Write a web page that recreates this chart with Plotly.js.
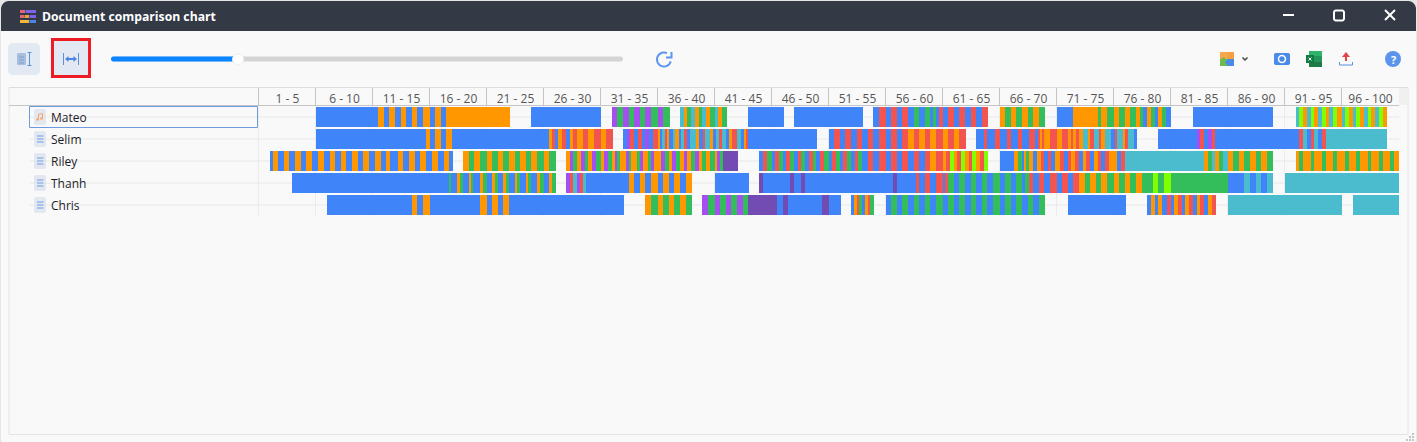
<!DOCTYPE html>
<html>
<head>
<meta charset="utf-8">
<script src="https://cdn.plot.ly/plotly-3.0.0.min.js"></script>
<style>html,body{margin:0;padding:0;background:#f9f9f9;overflow:hidden}#chart{width:1417px;height:442px}</style>
</head>
<body>
<div id="chart"></div>
<script>
const chartTitle = "Document comparison chart";
const documents = ["Mateo", "Selim", "Riley", "Thanh", "Chris"];
const binLabels = ["1 - 5","6 - 10","11 - 15","16 - 20","21 - 25","26 - 30","31 - 35","36 - 40","41 - 45","46 - 50","51 - 55","56 - 60","61 - 65","66 - 70","71 - 75","76 - 80","81 - 85","86 - 90","91 - 95","96 - 100"];
const binWidth = 57;

// start, then kind + end pairs along the document axis ("_" = no match)
const mateoRuns = [57,"b",119,"o",125,"b",130,"o",136,"b",142,"o",147,"b",153,"o",158,"b",164,"o",171,"b",176,"o",182,"b",187,"o",251,"_",272,"b",342,"_",353,
 "p",358,"g",364,"p",370,"g",375,"p",381,"g",386,"p",392,"g",399,"p",404,"g",411,"_",421,"t",425,"o",428,"g",432,"t",436,"o",440,"g",443,"t",447,"o",451,"g",456,"t",459,"o",463,"g",468,"_",489,
 "b",525,"_",535,"b",604,"_",614,"b",620,"r",627,"b",632,"r",638,"b",643,"r",649,"b",655,"g",660,"b",666,"g",671,"b",674,"g",677,"b",680,"r",684,"b",689,"r",695,"b",700,"r",706,"b",712,"r",717,"b",723,"r",729,"_",741,
 "o",746,"g",752,"o",757,"g",763,"o",769,"g",774,"o",780,"g",786,"_",798,"b",814,"o",839,"g",842,"o",848,"g",855,"o",860,"g",866,"o",871,"g",877,"o",881,"g",884,"b",888,"o",892,"g",896,"b",899,"o",903,"g",907,"b",912,"_",934,"b",1014,"_",1037,
 "t",1040,"l",1044,"o",1048,"t",1052,"l",1055,"o",1059,"t",1063,"l",1067,"o",1070,"t",1074,"l",1078,"o",1083,"t",1086,"l",1090,"o",1094,"t",1097,"l",1101,"o",1105,"t",1109,"l",1112,"o",1116,"t",1120,"l",1124,"o",1128];
const selimRuns = [57,"b",167,"o",171,"b",176,"o",182,"b",187,"o",193,"b",290,"o",293,"r",296,"b",299,"o",303,"r",307,"b",311,"o",314,"r",318,"o",324,"r",329,"o",335,"r",342,"o",347,"r",354,"_",364,
 "b",368,"p",371,"r",375,"b",379,"r",383,"b",386,"p",390,"b",394,"r",399,"o",401,"b",403,"t",406,"r",408,"o",410,"b",414,"t",416,"o",420,"b",422,"t",425,"r",428,"b",431,"t",437,"o",440,"b",444,"r",446,"t",451,"o",454,"b",457,"t",460,"r",463,"t",467,"b",470,"o",473,"r",476,"r",478,"t",482,"b",485,"o",487,"r",489,"b",558,"_",570,
 "b",575,"r",581,"b",586,"r",592,"b",598,"r",603,"b",609,"r",614,"b",620,"r",627,"b",632,"r",638,"b",643,"r",649,"o",655,"r",660,"o",666,"r",671,"o",677,"r",684,"o",689,"r",695,"o",700,"r",707,"_",717,
 "b",725,"r",728,"b",736,"r",741,"b",748,"r",752,"b",759,"r",763,"b",770,"r",776,"b",779,"r",781,"o",783,"r",785,"o",791,"r",798,"o",803,"r",809,"o",812,"r",814,"o",817,"r",820,"o",824,"t",829,"o",831,"r",835,"t",840,"r",842,"o",846,"t",852,"b",856,"r",858,"t",864,"o",866,"r",869,"t",875,"b",878,"_",899,
 "b",938,"p",941,"r",945,"b",949,"p",953,"r",956,"b",1040,"r",1044,"t",1048,"b",1052,"r",1055,"t",1059,"b",1063,"r",1067,"t",1128];
const rileyRuns = [11,"b",14,"o",19,"b",25,"o",30,"b",36,"o",42,"b",47,"o",53,"b",59,"o",65,"b",71,"o",76,"b",82,"o",87,"b",93,"o",99,"b",104,"o",110,"b",116,"o",122,"b",127,"o",131,"b",139,"o",144,"b",150,"o",156,"b",161,"o",167,"b",173,"o",179,"b",185,"o",190,"b",194,"_",204,
 "o",210,"g",215,"o",221,"g",228,"o",233,"g",239,"o",244,"g",250,"o",256,"g",261,"o",267,"g",272,"o",278,"g",285,"o",290,"g",297,"_",307,
 "o",311,"p",314,"g",318,"o",322,"p",326,"g",329,"o",333,"p",337,"g",342,"o",345,"p",349,"g",353,"o",356,"p",358,"g",361,"o",367,"p",370,"g",372,"o",378,"g",381,"p",384,"o",389,"g",392,"p",395,"o",402,"p",406,"g",410,"o",413,"p",417,"g",421,"o",425,"p",428,"o",432,"g",436,"p",440,"o",443,"g",447,"o",451,"g",456,"o",458,"p",461,"g",464,"d",479,"_",500,
 "b",504,"r",508,"g",513,"b",516,"r",520,"g",524,"b",527,"r",531,"g",535,"b",539,"r",542,"g",546,"b",550,"r",554,"g",557,"b",561,"r",565,"g",570,"b",573,"r",577,"g",581,"b",584,"r",588,"g",592,"b",596,"r",599,"g",603,"b",609,"r",614,"b",620,"r",627,"b",632,"r",638,"b",643,"r",649,"b",655,"r",660,"b",666,"r",671,"o",677,"r",684,"o",687,"r",691,"l",695,"o",698,"r",702,"l",706,"o",710,"r",713,"l",717,"o",721,"r",725,"l",729,"_",741,
 "b",755,"o",759,"g",763,"b",765,"o",767,"g",770,"o",774,"b",778,"o",782,"r",785,"b",789,"r",792,"b",796,"o",801,"r",805,"b",809,"r",812,"o",816,"r",820,"b",824,"o",827,"r",831,"b",835,"o",839,"r",842,"b",846,"r",850,"o",858,"b",862,"r",866,"t",945,"o",949,"g",953,"t",956,"o",960,"g",964,"t",969,"o",974,"g",980,"o",985,"g",991,"o",997,"g",1002,"o",1008,"g",1014,"_",1037,
 "o",1040,"g",1044,"o",1052,"g",1055,"o",1063,"g",1067,"o",1074,"g",1078,"o",1086,"g",1090,"o",1097,"g",1101,"o",1109,"g",1112,"o",1120,"g",1124,"o",1131,"g",1135,"o",1140];
const thanhRuns = [33,"b",190,"g",192,"b",198,"o",201,"g",204,"b",210,"o",212,"g",214,"b",221,"o",224,"g",228,"b",233,"o",236,"g",239,"b",244,"o",247,"g",250,"b",256,"o",258,"g",261,"b",267,"o",269,"g",272,"b",278,"o",281,"g",285,"b",290,"o",293,"g",297,"_",307,
 "p",311,"r",314,"t",318,"p",321,"r",324,"t",327,"b",370,"o",375,"b",381,"o",386,"b",392,"o",399,"b",404,"o",410,"b",415,"o",421,"b",427,"o",433,"_",456,"b",490,"_",500,
 "d",504,"b",531,"d",535,"b",542,"d",546,"b",634,"d",638,"b",657,"r",660,"b",666,"r",671,"b",677,"r",684,"b",686,"r",689,"g",692,"g",695,"b",700,"g",706,"b",712,"g",717,"b",723,"g",728,"b",734,"g",741,"b",746,"g",752,"b",757,"g",763,"b",766,"g",770,"r",774,"b",780,"r",785,"b",791,"r",798,"b",803,"r",809,"b",814,"r",820,
 "o",826,"g",831,"o",837,"g",842,"o",848,"g",855,"o",860,"g",866,"o",871,"g",877,"o",883,"g",894,"l",899,"g",905,"l",912,"g",969,"b",985,"t",991,"b",997,"t",1002,"b",1008,"t",1014,"_",1026,"t",1140];
const chrisRuns = [68,"b",153,"o",158,"b",164,"o",171,"b",221,"o",228,"b",233,"o",239,"b",244,"o",250,"b",365,"_",386,
 "o",392,"g",399,"o",404,"g",410,"o",415,"g",421,"o",427,"g",433,"_",443,"p",449,"g",456,"p",461,"g",467,"p",472,"g",478,"p",484,"g",489,"d",518,"b",524,"d",529,"b",563,"d",570,"b",582,"_",592,
 "b",595,"o",598,"r",600,"g",603,"b",606,"o",609,"r",611,"g",615,"_",627,"b",632,"g",638,"b",643,"g",649,"b",655,"g",660,"b",666,"g",671,"b",677,"g",684,"b",689,"g",695,"b",700,"g",706,"b",712,"g",717,"b",723,"g",728,"b",734,"g",741,"b",746,"g",752,"b",757,"g",763,"b",769,"g",774,"b",780,"g",786,"_",809,
 "b",867,"_",888,"b",892,"o",896,"b",899,"o",903,"b",908,"r",912,"b",915,"o",919,"r",923,"b",926,"o",930,"r",934,"b",938,"o",941,"r",945,"b",949,"o",953,"r",957,"_",969,"t",1083,"_",1094,"t",1140];
const documentRuns = [mateoRuns, selimRuns, rileyRuns, thanhRuns, chrisRuns];

const kindColors = {b:"#3f84f8", o:"#ff9800", g:"#33bd5b", r:"#f25450", p:"#a64ff0", t:"#4bbccd", d:"#724cb3", l:"#80ff00"};

// ---- bars
const traces = Object.keys(kindColors).map(k => ({type:"bar", orientation:"h", name:k, y:[], x:[], base:[], width:0.91,
  marker:{color:kindColors[k], line:{width:0}}, hovertemplate:"%{y}: %{base} – %{x}<extra></extra>", showlegend:false}));
const traceOf = {}; traces.forEach(t => traceOf[t.name] = t);
documentRuns.forEach((runs, i) => {
  for (let j = 1; j + 1 < runs.length; j += 2) {
    const t = traceOf[runs[j]];
    if (!t) continue;
    t.y.push(documents[i]); t.base.push(runs[j-1]); t.x.push(runs[j+1] - runs[j-1]);
  }
});

// ---- window chrome, in window pixels
const W = 1417, H = 442, L = 259, T = 106, PW = 1140, PH = 110;
const fx = p => (p - L) / PW, fy = p => 1 - (p - T) / PH;
const shapes = [];
const rect = (x0,y0,x1,y1,fill,line,lw) => shapes.push({type:"rect", xref:"paper", yref:"paper", layer:"below", x0:fx(x0), x1:fx(x1), y0:fy(y0), y1:fy(y1), fillcolor:fill||"rgba(0,0,0,0)", line:{width:line?(lw||1):0, color:line||"rgba(0,0,0,0)"}});
const line = (x0,y0,x1,y1,c,w) => shapes.push({type:"line", xref:"paper", yref:"paper", layer:"below", x0:fx(x0), x1:fx(x1), y0:fy(y0), y1:fy(y1), line:{color:c, width:w||1}});
const circ = (cx,cy,r,fill,ln,lw) => shapes.push({type:"circle", xref:"paper", yref:"paper", layer:"below", x0:fx(cx-r), x1:fx(cx+r), y0:fy(cy-r), y1:fy(cy+r), fillcolor:fill||"rgba(0,0,0,0)", line:{width:ln?(lw||1):0, color:ln||"rgba(0,0,0,0)"}});
const pathShape = (pts,opts) => {
  const d = pts.map((p,i) => (i?"L":"M") + fx(p[0]) + "," + fy(p[1])).join(" ") + (opts.close?" Z":"");
  shapes.push({type:"path", xref:"paper", yref:"paper", layer:"below", path:d, fillcolor:opts.fill||"rgba(0,0,0,0)", line:{width:opts.w||0, color:opts.c||"rgba(0,0,0,0)"}});
};
const arc = (cx,cy,r,a0,a1) => { const o=[]; for(let i=0;i<=24;i++){const a=(a0+(a1-a0)*i/24)*Math.PI/180; o.push([cx+r*Math.cos(a),cy+r*Math.sin(a)]);} return o; };
const rrect = (x0,y0,x1,y1,r) => [...arc(x0+r,y0+r,r,180,270),...arc(x1-r,y0+r,r,270,360),...arc(x1-r,y1-r,r,0,90),...arc(x0+r,y1-r,r,90,180)];

// window + title bar
pathShape(rrect(1,1,1416,446,8),{fill:"#f9f9f9",close:true});
pathShape([...arc(9,9,8,180,270),...arc(1408,9,8,270,360),[1416,31],[1,31]],{fill:"#333945",close:true});
// title icon
[[20,10,25,"#e8607a"],[25.5,10,36,"#7c63ea"],[20,15,24,"#e8607a"],[24.5,15,29,"#e8a23c"],[29.5,15,36,"#7c63ea"],[20,20,29,"#f2b63c"],[29.5,20,36,"#4a86e8"]]
 .forEach(b => rect(b[0],b[1],b[2],b[1]+3,b[3]));
// window buttons
line(1283,15,1294,15,"#ffffff",2);
pathShape(rrect(1334,10.5,1344,20.5,2),{c:"#ffffff",w:2,close:true});
line(1385,10,1395,20,"#ffffff",2); line(1395,10,1385,20,"#ffffff",2);
// toolbar buttons
pathShape(rrect(8,43,40,75,5),{fill:"#e3e9f2",close:true});
pathShape(rrect(17,53,26,65,1.5),{fill:"#a9bedd",close:true});
[57,60,63].forEach(y => line(19,y,24,y,"#7d9fd4",1));
line(29.5,52.5,29.5,65.5,"#5b8fe0",1); line(27.5,52.5,31.5,52.5,"#5b8fe0",1); line(27.5,65.5,31.5,65.5,"#5b8fe0",1);
rect(52.5,39.5,89.5,76.5,"#e3e9f2","#ed1c24",3);
line(63.5,53,63.5,65,"#5b8fe0",1); line(78.5,53,78.5,65,"#5b8fe0",1);
line(67,59,75,59,"#4a86e8",2);
pathShape([[65,59],[68.5,56],[68.5,62]],{fill:"#4a86e8",close:true});
pathShape([[77,59],[73.5,56],[73.5,62]],{fill:"#4a86e8",close:true});
// slider
pathShape(rrect(111,56.5,623,61.5,2.5),{fill:"#d4d4d4",close:true});
pathShape(rrect(111,56.5,238,61.5,2.5),{fill:"#0a84ff",close:true});
circ(238,59.5,5.5,"#ffffff","#eeeeee",1);
// refresh
pathShape(arc(664,59.5,7,15,295),{c:"#5b96f0",w:2});
pathShape([[671.5,52],[671.5,57.5],[666,57.5]],{c:"#5b96f0",w:2});
// right toolbar icons
rect(1220,52,1227,59,"#f5a94e"); rect(1227,52,1234,59,"#f59e42"); rect(1220,59,1227,66,"#6cbb50"); rect(1227,59,1234,66,"#4a8ae8");
circ(1227,55.5,1.7,"#f5a94e"); circ(1223.5,59,1.7,"#6cbb50"); circ(1227,62.5,1.7,"#4a8ae8");
pathShape([[1242.5,57.5],[1245,60],[1247.5,57.5]],{c:"#444444",w:1.5});
pathShape(rrect(1274,53,1290,65,2),{fill:"#4a8ae8",close:true});
circ(1282,59,3.5,"#4a8ae8","#ffffff",1.5);
rect(1309,51,1322,67,"#1f7a45"); rect(1309,51,1322,56,"#2fb36b"); rect(1309,56,1322,62,"#23945a");
rect(1306,55,1314,63,"#107c41");
line(1308.5,57.5,1311.5,60.5,"#ffffff",1); line(1311.5,57.5,1308.5,60.5,"#ffffff",1);
line(1346,61,1346,55,"#e0454a",2);
pathShape([[1342,57],[1346,52],[1350,57]],{fill:"#e0454a",close:true});
pathShape([[1339.5,62],[1339.5,65],[1352.5,65],[1352.5,62]],{c:"#5b8fe0",w:1});
circ(1393,59,8,"#5b94ea");

// table frame
rect(9,87.5,1408,434.5,null,"#e4e4e4",1);
rect(1399,88,1408,105,"#f0f0f0");
line(9,87.5,1408,87.5,"#dedede",1);
line(9,105.5,1399,105.5,"#c4c4c4",1);
binLabels.forEach((_,i) => { const x = L - 0.5 + binWidth*i; line(x,88,x,105,"#c4c4c4",1); line(x,106,x,216,"#ececec",1); });
const rowY = i => T + 11 + 22*i;
documents.forEach((_,i) => { line(30,rowY(i),1399,rowY(i),"#e8e8e8",1); });
rect(29.5,106.5,257.5,127.5,null,"#6e9ade",1);
// row icons
documents.forEach((_,i) => {
  const c = rowY(i);
  pathShape(rrect(34,c-8,46,c+8,2),{fill:"#e3e8f0",close:true});
  if (i === 0) {
    line(38.5,c+2.5,38.5,c-2.5,"#f5a66a",1); line(38.5,c-2.5,42.5,c-3.5,"#f5a66a",1); line(42.5,c-3.5,42.5,c+1.5,"#f5a66a",1);
    circ(37.5,c+2.5,1.3,"#f5a66a"); circ(41.5,c+1.5,1.3,"#f5a66a");
  } else {
    [-3,0,3].forEach(d => line(37,c+d,43.5,c+d,"#6e9de6",1));
  }
});
// resize grip
[[1412,433],[1409,436],[1412,436],[1406,439],[1409,439],[1412,439]].forEach(p => rect(p[0],p[1],p[0]+2,p[1]+2,"#c4c4c4"));

const annotations = documents.map(n => ({xref:"paper", yref:"y", x:fx(49), y:n, xanchor:"left", yanchor:"middle", text:n, showarrow:false, font:{family:"Open Sans", size:12, color:"#1c1c28"}}));
annotations.push({xref:"paper", yref:"paper", x:fx(1393), y:fy(59), xanchor:"center", yanchor:"middle", text:"<b>?</b>", showarrow:false, font:{family:"Open Sans", size:11, color:"#ffffff"}});

const layout = {
  width:W, height:H, margin:{l:L, r:W-L-PW, t:T, b:H-T-PH, pad:0}, autosize:false,
  paper_bgcolor:"#e6e6e6", plot_bgcolor:"rgba(0,0,0,0)", barmode:"overlay", showlegend:false,
  font:{family:"Open Sans", size:12, color:"#555555"},
  title:{text:chartTitle, xref:"container", yref:"container", x:42/W, xanchor:"left", y:1-16.5/H, yanchor:"middle", font:{family:"Open Sans", size:12.2, weight:700, color:"#ffffff"}, pad:{l:0,r:0,t:0,b:0}},
  xaxis:{type:"linear", side:"top", range:[0,PW], fixedrange:true, showgrid:false, zeroline:false, showline:false,
    tickmode:"array", tickvals:binLabels.map((_,i)=>binWidth*(i+0.5)), ticktext:binLabels, ticks:"", tickfont:{family:"Open Sans", size:12, color:"#555555"}, tickangle:0},
  yaxis:{type:"category", categoryorder:"array", categoryarray:documents, range:[documents.length-0.5,-0.5], fixedrange:true, showgrid:false, zeroline:false, showline:false, showticklabels:false, ticks:""},
  shapes, annotations
};
Plotly.newPlot("chart", traces, layout, {displayModeBar:false, responsive:false});
</script>
</body>
</html>
